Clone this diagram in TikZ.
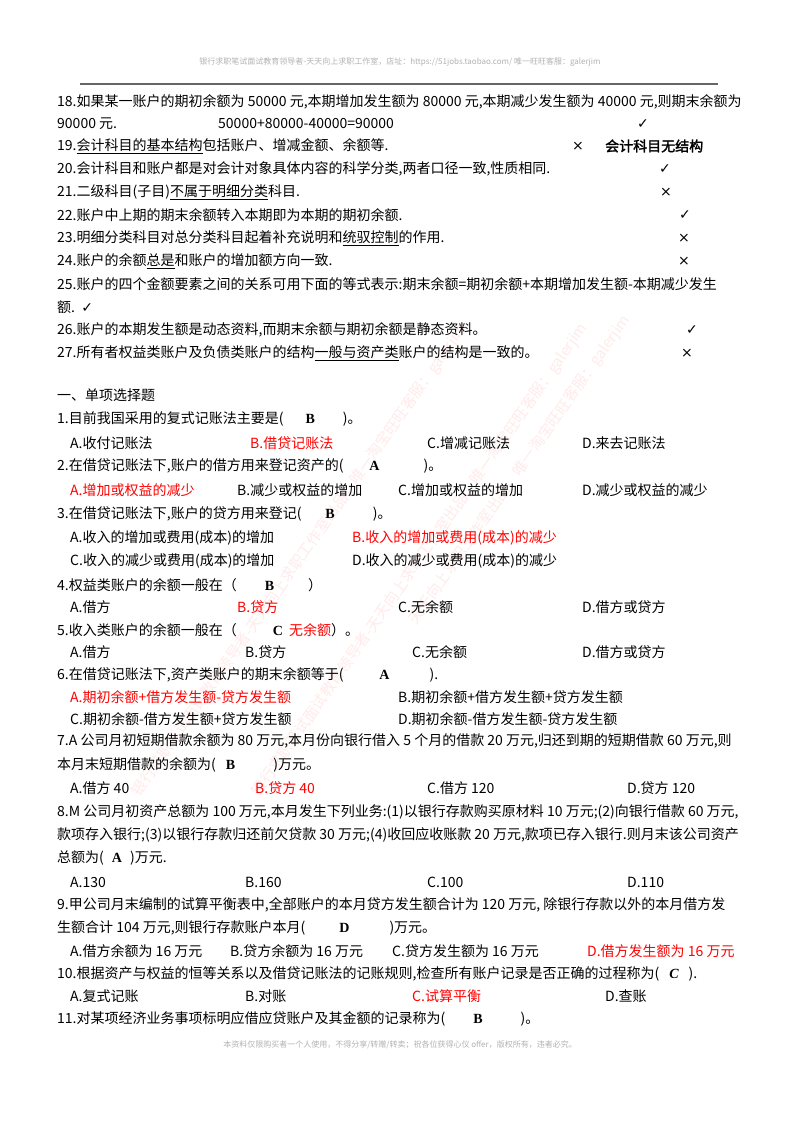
\documentclass[tikz,border=0pt]{standalone}
\usepackage{fontspec}
\setmainfont{Noto Sans CJK SC}
\newfontfamily\tn{Liberation Serif}
\newfontfamily\cjkb{Noto Sans CJK SC}[FakeBold=2]
\newfontfamily\djv{DejaVu Sans}
\newcommand{\ok}{{\djv ✓}}
\newcommand{\no}{{\djv ×}}
\newcommand{\ans}[1]{{\tn\bfseries #1}}
\begin{document}
\begin{tikzpicture}[x=1pt,y=-1pt,
  t/.style={anchor=west,inner sep=0,font=\fontsize{14}{16}\selectfont},
  r/.style={t,text=red},
  wm/.style={rotate=55,text=red!8,font=\fontsize{15}{17}\selectfont,inner sep=0},
  hd/.style={inner sep=0,text=black!30,font=\fontsize{8}{10}\selectfont}]
\useasboundingbox (0,0) rectangle (800,1132);
\fill[white] (0,0) rectangle (800,1132);
% watermarks
\node[wm] (w1) at (300,560) {银行求职笔试面试教育领导者-天天向上求职工作室出品，唯一淘宝旺旺客服：galerjim};
\node[wm] (w2) at (420,560) {银行求职笔试面试教育领导者-天天向上求职工作室出品，唯一淘宝旺旺客服：galerjim};
\node[wm] (w3) at (520,470) {天天向上求职工作室出品，唯一淘宝旺旺客服：galerjim};
% header/footer
\node[hd] (h) at (400,62) {银行求职笔试面试教育领导者-天天向上求职工作室，店址：https://51jobs.taobao.com/ 唯一旺旺客服：galerjim};
\draw[black!60,line width=1.5pt] (80,84) -- (718,84);
\node[hd] (f) at (400,1045) {本资料仅限购买者一个人使用，不得分享/转赠/转卖；祝各位获得心仪 offer，版权所有，违者必究。};
% judgement
\node[t] (l18) at (57,102) {18.如果某一账户的期初余额为 50000 元,本期增加发生额为 80000 元,本期减少发生额为 40000 元,则期末余额为};
\node[t] (l18b) at (57,124) {90000 元.};
\node[t] (l18c) at (218,124) {50000+80000-40000=90000};
\node[t] (k18) at (637,124) {\ok};
\node[t] (l19) at (57,146) {19.\underline{会计科目的基本结构}包括账户、增减金额、余额等.};
\node[t] (k19) at (572,146) {\no};
\node[t] (k19b) at (605,146) {\cjkb 会计科目无结构};
\node[t] (l20) at (57,169) {20.会计科目和账户都是对会计对象具体内容的科学分类,两者口径一致,性质相同.};
\node[t] (k20) at (659,169) {\ok};
\node[t] (l21) at (57,192) {21.二级科目(子目)\underline{不属于明细分类}科目.};
\node[t] (k21) at (660,192) {\no};
\node[t] (l22) at (57,215) {22.账户中上期的期末余额转入本期即为本期的期初余额.};
\node[t] (k22) at (679,215) {\ok};
\node[t] (l23) at (57,238) {23.明细分类科目对总分类科目起着补充说明和\underline{统驭控制}的作用.};
\node[t] (k23) at (678,238) {\no};
\node[t] (l24) at (57,261) {24.账户的余额\underline{总是}和账户的增加额方向一致.};
\node[t] (k24) at (678,261) {\no};
\node[t] (l25) at (57,284) {25.账户的四个金额要素之间的关系可用下面的等式表示:期末余额=期初余额+本期增加发生额-本期减少发生};
\node[t] (l25b) at (57,307) {额.\ \ \ok};
\node[t] (l26) at (57,330) {26.账户的本期发生额是动态资料,而期末余额与期初余额是静态资料。};
\node[t] (k26) at (686,330) {\ok};
\node[t] (l27) at (57,353) {27.所有者权益类账户及负债类账户的结构\underline{一般与资产类}账户的结构是一致的。};
\node[t] (k27) at (681,353) {\no};
% single choice
\node[t] (s0) at (57,395) {一、单项选择题};
\node[t] (q1) at (57,419) {1.目前我国采用的复式记账法主要是(\hspace{22pt}\ans{B}\hspace{28pt})。};
\node[t] (q1a) at (70,443) {A.收付记账法};
\node[r] (q1b) at (250,443) {B.借贷记账法};
\node[t] (q1c) at (427,443) {C.增减记账法};
\node[t] (q1d) at (582,443) {D.来去记账法};
\node[t] (q2) at (57,466) {2.在借贷记账法下,账户的借方用来登记资产的(\hspace{26pt}\ans{A}\hspace{44pt})。};
\node[r] (q2a) at (70,490) {A.增加或权益的减少};
\node[t] (q2b) at (237,490) {B.减少或权益的增加};
\node[t] (q2c) at (398,490) {C.增加或权益的增加};
\node[t] (q2d) at (582,490) {D.减少或权益的减少};
\node[t] (q3) at (57,514) {3.在借贷记账法下,账户的贷方用来登记(\hspace{24pt}\ans{B}\hspace{38pt})。};
\node[t] (q3a) at (70,538) {A.收入的增加或费用(成本)的增加};
\node[r] (q3b) at (352,538) {B.收入的增加或费用(成本)的减少};
\node[t] (q3c) at (70,561) {C.收入的减少或费用(成本)的增加};
\node[t] (q3d) at (352,561) {D.收入的减少或费用(成本)的减少};
\node[t] (q4) at (57,585) {4.权益类账户的余额一般在（\hspace{28pt}\ans{B}\hspace{34pt}）};
\node[t] (q4a) at (70,607) {A.借方};
\node[r] (q4b) at (237,607) {B.贷方};
\node[t] (q4c) at (398,607) {C.无余额};
\node[t] (q4d) at (582,607) {D.借方或贷方};
\node[t] (q5) at (57,630) {5.收入类账户的余额一般在（\hspace{36pt}\ans{C}\ \ \textcolor{red}{无余额}）。};
\node[t] (q5a) at (70,652) {A.借方};
\node[t] (q5b) at (245,652) {B.贷方};
\node[t] (q5c) at (412,652) {C.无余额};
\node[t] (q5d) at (582,652) {D.借方或贷方};
\node[t] (q6) at (57,675) {6.在借贷记账法下,资产类账户的期末余额等于(\hspace{36pt}\ans{A}\hspace{40pt}).};
\node[r] (q6a) at (70,697) {A.期初余额+借方发生额-贷方发生额};
\node[t] (q6b) at (398,697) {B.期初余额+借方发生额+贷方发生额};
\node[t] (q6c) at (70,719) {C.期初余额-借方发生额+贷方发生额};
\node[t] (q6d) at (398,719) {D.期初余额-借方发生额-贷方发生额};
\node[t] (q7) at (57,741) {7.A 公司月初短期借款余额为 80 万元,本月份向银行借入 5 个月的借款 20 万元,归还到期的短期借款 60 万元,则};
\node[t] (q7b) at (57,765) {本月末短期借款的余额为(\hspace{10pt}\ans{B}\hspace{38pt})万元。};
\node[t] (q7a1) at (70,788) {A.借方 40};
\node[r] (q7a2) at (255,788) {B.贷方 40};
\node[t] (q7a3) at (427,788) {C.借方 120};
\node[t] (q7a4) at (627,788) {D.贷方 120};
\node[t] (q8) at (57,812) {8.M 公司月初资产总额为 100 万元,本月发生下列业务:(1)以银行存款购买原材料 10 万元;(2)向银行借款 60 万元,};
\node[t] (q8b) at (57,835) {款项存入银行;(3)以银行存款归还前欠贷款 30 万元;(4)收回应收账款 20 万元,款项已存入银行.则月末该公司资产};
\node[t] (q8c) at (57,858) {总额为(\hspace{8pt}\ans{A}\hspace{8pt})万元.};
\node[t] (q8a1) at (70,882) {A.130};
\node[t] (q8a2) at (245,882) {B.160};
\node[t] (q8a3) at (427,882) {C.100};
\node[t] (q8a4) at (627,882) {D.110};
\node[t] (q9) at (57,905) {9.甲公司月末编制的试算平衡表中,全部账户的本月贷方发生额合计为 120 万元, 除银行存款以外的本月借方发};
\node[t] (q9b) at (57,928) {生额合计 104 万元,则银行存款账户本月(\hspace{34pt}\ans{D}\hspace{40pt})万元。};
\node[t] (q9a1) at (70,951) {A.借方余额为 16 万元};
\node[t] (q9a2) at (230,951) {B.贷方余额为 16 万元};
\node[t] (q9a3) at (392,951) {C.贷方发生额为 16 万元};
\node[r] (q9a4) at (587,951) {D.借方发生额为 16 万元};
\node[t] (q10) at (57,974) {10.根据资产与权益的恒等关系以及借贷记账法的记账规则,检查所有账户记录是否正确的过程称为(\hspace{10pt}\ans{\itshape C}\hspace{10pt}).};
\node[t] (q10a) at (70,996) {A.复式记账};
\node[t] (q10b) at (245,996) {B.对账};
\node[r] (q10c) at (412,996) {C.试算平衡};
\node[t] (q10d) at (605,996) {D.查账};
\node[t] (q11) at (57,1019) {11.对某项经济业务事项标明应借应贷账户及其金额的记录称为(\hspace{28pt}\ans{B}\hspace{38pt})。};
\end{tikzpicture}
\end{document}
